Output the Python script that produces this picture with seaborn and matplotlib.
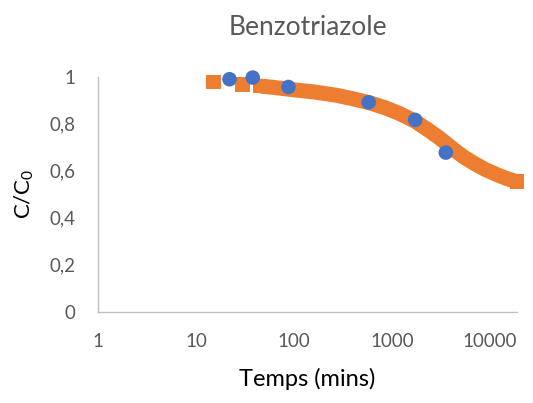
import matplotlib
matplotlib.use("Agg")
import matplotlib.pyplot as plt
import seaborn as sns
from matplotlib.ticker import FixedLocator, FuncFormatter, NullLocator

# measured points (blue circles)
exp_time = [22, 38, 88, 580, 1730, 3560]
exp_ratio = [0.989, 0.996, 0.956, 0.891, 0.816, 0.677]

# model curve
model_time = [15, 30, 45, 60, 100, 160, 270, 400, 600, 850, 1200, 1700, 2300,
              3000, 3700, 4500, 5500, 7000, 9000, 12000, 15000, 19000]
model_ratio = [0.977, 0.967, 0.960, 0.955, 0.944, 0.935, 0.921, 0.906, 0.888,
               0.868, 0.843, 0.812, 0.776, 0.742, 0.712, 0.683, 0.657, 0.630,
               0.605, 0.582, 0.566, 0.553]

x_ticks = [1, 10, 100, 1000, 10000]
y_ticks = [0, 0.2, 0.4, 0.6, 0.8, 1.0]

ORANGE = "#ED7D31"
BLUE = "#4472C4"
GREY = "#595959"

sns.set_theme(style="white")
plt.rcParams["font.family"] = ["Lato", "DejaVu Sans"]

fig = plt.figure(figsize=(5.33, 4.03), dpi=100)
ax = fig.add_axes([0.184, 0.2266, 0.786, 0.5832])

# dense part of the model drawn as a thick band; separate squares at the ends
sns.lineplot(x=model_time[2:], y=model_ratio[2:], ax=ax, color=ORANGE,
             linewidth=10.8, solid_capstyle="butt", zorder=2)
sq_time = model_time[:3] + model_time[-1:]
sq_ratio = model_ratio[:3] + model_ratio[-1:]
sns.scatterplot(x=sq_time, y=sq_ratio, ax=ax, marker="s", s=110,
                color=ORANGE, edgecolor="none", linewidth=0, zorder=2,
                clip_on=False)
sns.scatterplot(x=exp_time, y=exp_ratio, ax=ax, marker="o", s=110,
                color=BLUE, edgecolor="none", linewidth=0, zorder=3,
                clip_on=False)

ax.set_xscale("log")
ax.set_xlim(1, 19000)
ax.set_ylim(0, 1)
ax.xaxis.set_major_locator(FixedLocator(x_ticks))
ax.xaxis.set_minor_locator(NullLocator())
ax.xaxis.set_major_formatter(FuncFormatter(lambda v, p: f"{v:g}"))
ax.yaxis.set_major_locator(FixedLocator(y_ticks))
ax.yaxis.set_major_formatter(
    FuncFormatter(lambda v, p: f"{v:g}".replace(".", ",")))

for side in ["top", "right"]:
    ax.spines[side].set_visible(False)
for side in ["left", "bottom"]:
    ax.spines[side].set_color("#BFBFBF")
    ax.spines[side].set_linewidth(1.0)

ax.tick_params(axis="both", length=0, labelsize=13.5, labelcolor=GREY)
ax.tick_params(axis="x", pad=15)
ax.tick_params(axis="y", pad=16)

ax.set_xlabel("Temps (mins)", fontsize=17, color="black", labelpad=13)
ax.set_ylabel(r"C/C$_\mathregular{0}$", fontsize=16, color="black", labelpad=10)
ax.set_title("Benzotriazole", fontsize=19, color=GREY, pad=30)

fig.savefig("out.png", dpi=100)
